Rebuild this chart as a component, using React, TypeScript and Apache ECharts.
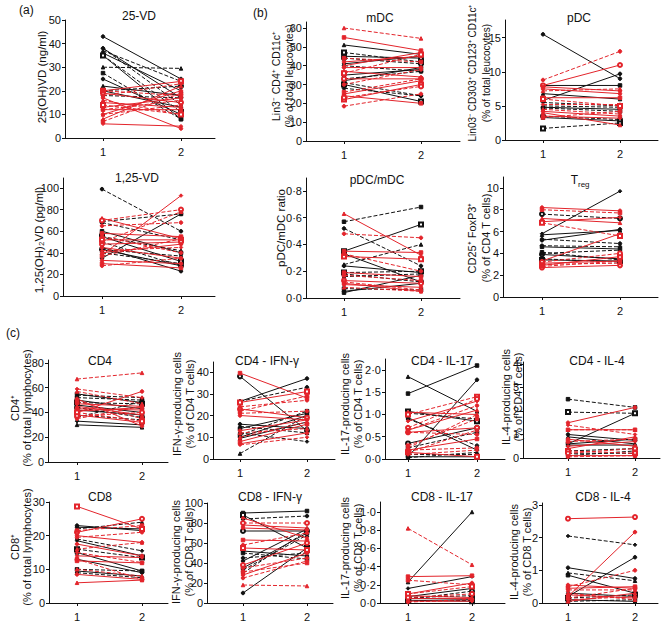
import React, { useEffect, useRef } from 'react';
import * as echarts from 'echarts';

type Pair = [number, number];

// ---------- (a) 25-VD ----------
const vd25BlackSolid: Pair[] = [[43, 25], [38, 17], [35, 8], [25, 10], [22, 18], [20, 13], [36, 20]];
const vd25BlackDashed: Pair[] = [[37, 24], [38, 14], [30, 29.5], [27.5, 8], [35, 11], [20, 22], [18, 17]];
const vd25RedSolid: Pair[] = [[20, 24], [19, 15], [17, 4], [13, 17], [12, 12], [10, 20], [8, 22], [6, 5], [15, 13]];
const vd25RedDashed: Pair[] = [[20, 18], [18, 23], [16, 10], [12, 16], [10, 14], [7, 19], [14, 10]];
const vd25Ticks = [0, 10, 20, 30, 40, 50];

// ---------- (a) 1,25-VD ----------
const vd125BlackSolid: Pair[] = [[60, 40], [55, 32], [43, 28], [35, 76], [45, 23]];
const vd125BlackDashed: Pair[] = [[99, 60], [69, 76], [68, 52], [55, 42], [43, 37], [40, 30], [50, 28]];
const vd125RedSolid: Pair[] = [[38, 93], [72, 53], [58, 55], [52, 52], [48, 50], [45, 35], [33, 30], [30, 26], [40, 48]];
const vd125RedDashed: Pair[] = [[70, 80], [65, 68], [55, 40], [37, 53], [28, 35], [50, 78], [42, 45]];
const vd125Ticks = [0, 20, 40, 60, 80, 100];

// ---------- (b) mDC ----------
const mdcBlackSolid: Pair[] = [[51, 46], [41, 45], [35, 38], [32, 39], [30, 21], [45, 44]];
const mdcBlackDashed: Pair[] = [[47, 42], [44, 41], [31, 24], [28, 24], [33, 37], [40, 37]];
const mdcRedSolid: Pair[] = [[55, 48], [42, 45], [40, 47], [37, 34], [25, 32], [24, 20], [22, 30], [33, 33], [39, 39]];
const mdcRedDashed: Pair[] = [[60, 54.5], [44, 42], [36, 46], [23, 29], [18.5, 25], [30, 38], [26, 33]];
const mdcTicks = [0, 10, 20, 30, 40, 50, 60];

// ---------- (b) pDC ----------
const pdcBlackSolid: Pair[] = [[15.5, 9], [8, 8], [5.8, 9.7], [6.8, 6], [4.8, 4.5], [3.3, 2.8]];
const pdcBlackDashed: Pair[] = [[5.5, 5], [5, 4.8], [4.7, 4.2], [1.7, 2.5], [3.5, 3]];
const pdcRedSolid: Pair[] = [[8, 11], [7.8, 7.2], [7.5, 6.8], [6.2, 6.2], [4.2, 3.5], [4, 2.2], [3.5, 3.2]];
const pdcRedDashed: Pair[] = [[8.8, 13], [7.2, 7.5], [5.2, 5.2], [4.5, 3.8], [3.3, 4.2], [6, 5]];
const pdcTicks = [0, 5, 10, 15];

// ---------- (b) pDC/mDC ----------
const ratioBlackSolid: Pair[] = [[0.35, 0.55], [0.33, 0.12], [0.24, 0.19], [0.05, 0.11], [0.04, 0.17]];
const ratioBlackDashed: Pair[] = [[0.57, 0.68], [0.52, 0.24], [0.25, 0.4], [0.18, 0.12], [0.16, 0.18], [0.07, 0.06], [0.19, 0.2]];
const ratioRedSolid: Pair[] = [[0.63, 0.32], [0.35, 0.34], [0.31, 0.29], [0.13, 0.11], [0.11, 0.05], [0.1, 0.08], [0.19, 0.16]];
const ratioRedDashed: Pair[] = [[0.48, 0.45], [0.33, 0.2], [0.17, 0.13], [0.12, 0.06], [0.08, 0.05]];
const ratioTicks = [0, 0.2, 0.4, 0.6, 0.8];

// ---------- (b) Treg ----------
const tregBlackSolid: Pair[] = [[5.8, 9.7], [5.7, 6.1], [4.6, 4.4], [3.4, 3.3], [3.9, 3.5], [5.2, 6.2]];
const tregBlackDashed: Pair[] = [[7.6, 7.2], [5.3, 4.9], [4.7, 4.6], [4.1, 3.4], [3.5, 3.2], [4.0, 4.3]];
const tregRedSolid: Pair[] = [[8.2, 7.9], [7.2, 6.8], [6.9, 7.3], [3.3, 5.8], [3.1, 3.3], [2.9, 3.7], [2.7, 2.9]];
const tregRedDashed: Pair[] = [[8, 7.7], [6.8, 5.6], [3.2, 4.0], [3.0, 3.1], [2.8, 3.3]];
const tregTicks = [0, 2, 4, 6, 8, 10];

// ---------- (c) CD4 ----------
const cd4BlackSolid: Pair[] = [[55, 48], [50, 43], [46, 40], [33, 30], [30, 28], [42, 38]];
const cd4BlackDashed: Pair[] = [[54, 52], [52, 50], [48, 47], [44, 36], [38, 34], [36, 49]];
const cd4RedSolid: Pair[] = [[51, 29], [47, 45], [43, 42], [40, 57], [38, 32], [41, 44], [45, 38]];
const cd4RedDashed: Pair[] = [[67, 72], [59, 52], [57, 47], [49, 35], [40, 33], [37, 40], [35, 45]];
const cd4Ticks = [0, 20, 40, 60, 80];

// ---------- (c) CD4 - IFN-γ ----------
const cd4IfnBlackSolid: Pair[] = [[38, 13], [26.5, 37], [16, 14], [14, 21], [10, 20], [9.5, 17]];
const cd4IfnBlackDashed: Pair[] = [[26.5, 33], [15, 12], [12, 8], [2.5, 20], [11, 22]];
const cd4IfnRedSolid: Pair[] = [[39.5, 28], [26, 31], [23, 19], [20, 18], [13, 18], [8, 16], [7, 12]];
const cd4IfnRedDashed: Pair[] = [[24, 27], [22, 29], [21, 22], [12, 14], [6.5, 10], [10, 17]];
const cd4IfnTicks = [0, 10, 20, 30, 40];

// ---------- (c) CD4 - IL-17 ----------
const cd4Il17BlackSolid: Pair[] = [[1.85, 1.07], [1.47, 2.1], [1.07, 0.85], [0.35, 0.7], [0.05, 1.78], [0.93, 0.2], [0.05, 0.05]];
const cd4Il17BlackDashed: Pair[] = [[1.03, 0.9], [0.9, 0.3], [0.25, 0.6], [0.1, 0.1], [0.03, 0.15]];
const cd4Il17RedSolid: Pair[] = [[1.05, 1.0], [0.85, 1.3], [0.65, 1.1], [0.2, 0.45], [0.15, 0.05], [0.6, 0.7]];
const cd4Il17RedDashed: Pair[] = [[1.0, 1.4], [0.7, 1.35], [0.65, 1.2], [0.6, 0.55], [0.3, 0.9], [0.2, 0.25], [0.15, 0.65], [0.1, 0.2], [0.25, 1.0]];
const cd4Il17Ticks = [0, 0.5, 1.0, 1.5, 2.0];

// ---------- (c) CD4 - IL-4 ----------
const cd4Il4BlackSolid: Pair[] = [[1.0, 0.75], [0.9, 0.6], [0.6, 1.9], [0.55, 0.55], [0.6, 0.8]];
const cd4Il4BlackDashed: Pair[] = [[2.5, 2.15], [1.95, 1.9], [0.3, 0.4], [0.1, 0.3], [0.2, 0.2]];
const cd4Il4RedSolid: Pair[] = [[1.5, 2.15], [1.2, 1.2], [0.8, 0.5], [0.4, 0.9], [0.5, 0.7], [0.1, 0.1]];
const cd4Il4RedDashed: Pair[] = [[1.4, 1.0], [1.2, 1.2], [0.7, 0.8], [0.3, 0.2], [0.2, 0.4], [0.05, 0.1]];
const cd4Il4Ticks = [0, 1, 2, 3, 4];

// ---------- (c) CD8 ----------
const cd8BlackSolid: Pair[] = [[23, 21.5], [22.5, 22], [15, 9.5], [13, 9], [9.5, 8], [18.5, 14]];
const cd8BlackDashed: Pair[] = [[22, 24], [19, 15.5], [9, 7.5], [10, 9.5], [16, 13.5]];
const cd8RedSolid: Pair[] = [[28.7, 22], [21, 25], [20, 18], [17.5, 14], [12.5, 11.9], [8.5, 7], [6, 6.8], [14, 13.5]];
const cd8RedDashed: Pair[] = [[21.5, 23], [19.5, 21], [16, 18], [15, 12], [10, 8], [13, 7]];
const cd8Ticks = [0, 10, 20, 30];

// ---------- (c) CD8 - IFN-γ ----------
const cd8IfnBlackSolid: Pair[] = [[90, 92], [88, 55], [72, 72], [52, 47], [42, 74], [35, 70], [10, 55]];
const cd8IfnBlackDashed: Pair[] = [[84, 87], [50, 44], [45, 50], [33, 68], [30, 72]];
const cd8IfnRedSolid: Pair[] = [[85, 65], [78, 75], [63, 62], [55, 53], [38, 60], [28, 50], [75, 73]];
const cd8IfnRedDashed: Pair[] = [[80, 80], [58, 70], [35, 45], [31, 40], [25, 42], [18, 17]];
const cd8IfnTicks = [0, 20, 40, 60, 80, 100];

// ---------- (c) CD8 - IL-17 ----------
const cd8Il17BlackSolid: Pair[] = [[0.23, 1.0], [0.16, 0.29], [0.07, 0.16], [0.05, 0.04], [0.03, 0.02]];
const cd8Il17BlackDashed: Pair[] = [[0.06, 0.08], [0.04, 0.13], [0.02, 0.03]];
const cd8Il17RedSolid: Pair[] = [[0.29, 0.3], [0.1, 0.22], [0.08, 0.06], [0.02, 0.02], [0.05, 0.05]];
const cd8Il17RedDashed: Pair[] = [[0.82, 0.42], [0.25, 0.2], [0.1, 0.18], [0.06, 0.1], [0.01, 0.04]];
const cd8Il17Ticks = [0, 0.2, 0.4, 0.6, 0.8, 1.0];

// ---------- (c) CD8 - IL-4 ----------
const cd8Il4BlackSolid: Pair[] = [[1.08, 0.75], [0.85, 0.3], [0.2, 1.4], [0.1, 0.05], [0.3, 0.2]];
const cd8Il4BlackDashed: Pair[] = [[2.05, 1.78], [0.92, 0.68], [0.05, 0.1], [0.15, 0.25]];
const cd8Il4RedSolid: Pair[] = [[2.58, 2.63], [0.2, 2.17], [0.55, 0.45], [0.45, 0.5], [0.25, 0.15], [0.05, 0.3]];
const cd8Il4RedDashed: Pair[] = [[0.5, 1.0], [0.4, 0.4], [0.1, 0.2], [0.3, 0.1], [0.15, 0.45]];
const cd8Il4Ticks = [0, 1, 2, 3];

const timepoints = [1, 2];

interface PanelData {
  title: string;
  yName: string[];
  groups: Pair[][]; // blackSolid, blackDashed, redSolid, redDashed
  ticks: number[];
  decimals: boolean;
}

const panels: PanelData[] = [
  { title: '25-VD', yName: ['25(OH)VD (ng/ml)'], groups: [vd25BlackSolid, vd25BlackDashed, vd25RedSolid, vd25RedDashed], ticks: vd25Ticks, decimals: false },
  { title: '1,25-VD', yName: ['1,25(OH)₂VD (pg/ml)'], groups: [vd125BlackSolid, vd125BlackDashed, vd125RedSolid, vd125RedDashed], ticks: vd125Ticks, decimals: false },
  { title: 'mDC', yName: ['Lin3⁻ CD4⁺ CD11c⁺', '(% of total leucocytes)'], groups: [mdcBlackSolid, mdcBlackDashed, mdcRedSolid, mdcRedDashed], ticks: mdcTicks, decimals: false },
  { title: 'pDC', yName: ['Lin03⁻ CD303⁺ CD123⁺ CD11c⁺', '(% of total leucocytes)'], groups: [pdcBlackSolid, pdcBlackDashed, pdcRedSolid, pdcRedDashed], ticks: pdcTicks, decimals: false },
  { title: 'pDC/mDC', yName: ['pDC/mDC ratio'], groups: [ratioBlackSolid, ratioBlackDashed, ratioRedSolid, ratioRedDashed], ticks: ratioTicks, decimals: true },
  { title: '', yName: ['CD25⁺ FoxP3⁺', '(% of CD4 T cells)'], groups: [tregBlackSolid, tregBlackDashed, tregRedSolid, tregRedDashed], ticks: tregTicks, decimals: false },
  { title: 'CD4', yName: ['CD4⁺', '(% of total lymphocytes)'], groups: [cd4BlackSolid, cd4BlackDashed, cd4RedSolid, cd4RedDashed], ticks: cd4Ticks, decimals: false },
  { title: 'CD4 - IFN-γ', yName: ['IFN-γ-producing cells', '(% of CD4 T cells)'], groups: [cd4IfnBlackSolid, cd4IfnBlackDashed, cd4IfnRedSolid, cd4IfnRedDashed], ticks: cd4IfnTicks, decimals: false },
  { title: 'CD4 - IL-17', yName: ['IL-17-producing cells', '(% of CD4 T cells)'], groups: [cd4Il17BlackSolid, cd4Il17BlackDashed, cd4Il17RedSolid, cd4Il17RedDashed], ticks: cd4Il17Ticks, decimals: true },
  { title: 'CD4 - IL-4', yName: ['IL-4-producing cells', '(% of CD4 T cells)'], groups: [cd4Il4BlackSolid, cd4Il4BlackDashed, cd4Il4RedSolid, cd4Il4RedDashed], ticks: cd4Il4Ticks, decimals: false },
  { title: 'CD8', yName: ['CD8⁺', '(% of total lymphocytes)'], groups: [cd8BlackSolid, cd8BlackDashed, cd8RedSolid, cd8RedDashed], ticks: cd8Ticks, decimals: false },
  { title: 'CD8 - IFN-γ', yName: ['IFN-γ-producing cells', '(% of CD8 T cells)'], groups: [cd8IfnBlackSolid, cd8IfnBlackDashed, cd8IfnRedSolid, cd8IfnRedDashed], ticks: cd8IfnTicks, decimals: false },
  { title: 'CD8 - IL-17', yName: ['IL-17-producing cells', '(% of CD8 T cells)'], groups: [cd8Il17BlackSolid, cd8Il17BlackDashed, cd8Il17RedSolid, cd8Il17RedDashed], ticks: cd8Il17Ticks, decimals: true },
  { title: 'CD8 - IL-4', yName: ['IL-4-producing cells', '(% of CD8 T cells)'], groups: [cd8Il4BlackSolid, cd8Il4BlackDashed, cd8Il4RedSolid, cd8Il4RedDashed], ticks: cd8Il4Ticks, decimals: false },
];

// ---------- layout (pixels) ----------
interface Layout { left: number; right: number; c1: number; c2: number; top: number; bottom: number; yMax: number; tx: number; ty: number; nx: number; ny: number; nf: number; lh: number }
const layouts: Layout[] = [
  { left: 65, right: 215, c1: 103, c2: 181, top: 20, bottom: 138, yMax: 50, tx: 139, ty: 16, nx: 42, ny: 77, nf: 11.5, lh: 13 },
  { left: 63, right: 215, c1: 102, c2: 181, top: 178, bottom: 296, yMax: 109.3, tx: 137, ty: 178, nx: 39, ny: 240, nf: 11.5, lh: 13 },
  { left: 306, right: 460, c1: 344, c2: 421, top: 22, bottom: 141, yMax: 63.2, tx: 380, ty: 18, nx: 282, ny: 76, nf: 10.5, lh: 13 },
  { left: 505, right: 658, c1: 543, c2: 620, top: 20, bottom: 140, yMax: 17.6, tx: 579, ty: 18, nx: 479, ny: 73, nf: 10, lh: 14 },
  { left: 306, right: 460, c1: 344, c2: 421, top: 178, bottom: 298, yMax: 0.897, tx: 377, ty: 180, nx: 281, ny: 228, nf: 11.5, lh: 13 },
  { left: 503, right: 658, c1: 542, c2: 620, top: 177, bottom: 297, yMax: 11, tx: 578, ty: 180, nx: 479, ny: 238, nf: 11, lh: 14 },
  { left: 48, right: 168, c1: 77, c2: 142, top: 360, bottom: 462, yMax: 82.4, tx: 100, ty: 361, nx: 21, ny: 408, nf: 11, lh: 12.5 },
  { left: 213, right: 335, c1: 240, c2: 307, top: 362, bottom: 459, yMax: 44.6, tx: 267, ty: 361, nx: 183, ny: 404, nf: 11, lh: 13 },
  { left: 385, right: 505, c1: 408, c2: 477, top: 359, bottom: 459, yMax: 2.247, tx: 442, ty: 361, nx: 351, ny: 404, nf: 11, lh: 13 },
  { left: 523, right: 660, c1: 568, c2: 635, top: 362, bottom: 458, yMax: 4.08, tx: 597, ty: 361, nx: 512, ny: 397, nf: 11, lh: 12 },
  { left: 49, right: 168, c1: 77, c2: 142, top: 502, bottom: 603, yMax: 30, tx: 100, ty: 497, nx: 21, ny: 547, nf: 11, lh: 12.5 },
  { left: 207, right: 333, c1: 243, c2: 307, top: 503, bottom: 603, yMax: 100, tx: 270, ty: 497, nx: 182, ny: 552, nf: 11, lh: 13 },
  { left: 380, right: 505, c1: 408, c2: 472, top: 502, bottom: 603, yMax: 1.11, tx: 442, ty: 497, nx: 351, ny: 548, nf: 11, lh: 13 },
  { left: 542, right: 658, c1: 568, c2: 635, top: 503, bottom: 603, yMax: 3.06, tx: 603, ty: 497, nx: 520, ny: 552, nf: 11, lh: 13 },
];

const RED = '#e3242b';
const BLACK = '#111111';
const FONT = '"Liberation Sans", Arial, Helvetica, sans-serif';
const SYMBOLS = ['circle', 'rect', 'triangle', 'circle', 'emptyRect', 'diamond', 'rect', 'emptyCircle', 'triangle', 'circle'];

function buildOption() {
  const grid: any[] = [];
  const xAxis: any[] = [];
  const yAxis: any[] = [];
  const series: any[] = [];
  const graphic: any[] = [];

  panels.forEach((p, i) => {
    const L = layouts[i];
    const ppu = L.c2 - L.c1;
    const xMin = 1 - (L.c1 - L.left) / ppu;
    const xMax = 2 + (L.right - L.c2) / ppu;
    grid.push({ left: L.left, top: L.top, width: L.right - L.left, height: L.bottom - L.top, containLabel: false });
    xAxis.push({
      type: 'value', gridIndex: i, min: xMin, max: xMax,
      axisLine: { show: true, lineStyle: { color: BLACK, width: 1 } },
      axisTick: { show: true, length: 3, customValues: timepoints, lineStyle: { color: BLACK } },
      axisLabel: { customValues: timepoints, color: BLACK, fontSize: 11, fontFamily: FONT, margin: 8 },
      splitLine: { show: false },
    });
    yAxis.push({
      type: 'value', gridIndex: i, min: 0, max: L.yMax,
      axisLine: { show: true, lineStyle: { color: BLACK, width: 1 } },
      axisTick: { show: true, length: 3, customValues: p.ticks, lineStyle: { color: BLACK } },
      axisLabel: {
        customValues: p.ticks, color: BLACK, fontSize: 11, fontFamily: FONT, margin: 4,
        formatter: (v: number) => (p.decimals ? v.toFixed(1).replace('.', '·') : String(v)),
      },
      splitLine: { show: false },
    });
    p.groups.forEach((pairs, g) => {
      const color = g < 2 ? BLACK : RED;
      const dashed = g % 2 === 1;
      pairs.forEach((pair, j) => {
        const sym = SYMBOLS[(j * 3 + g * 2 + i) % SYMBOLS.length];
        series.push({
          type: 'line', xAxisIndex: i, yAxisIndex: i, silent: true,
          data: [[timepoints[0], pair[0]], [timepoints[1], pair[1]]],
          symbol: sym, symbolSize: sym.startsWith('empty') ? 4 : 3.5,
          lineStyle: { color, width: 1, type: dashed ? [4, 2] : 'solid' },
          itemStyle: { color, borderColor: color, borderWidth: 1 },
          z: g < 2 ? 2 : 3,
        });
      });
    });
    if (p.title) {
      graphic.push({ type: 'text', x: L.tx, y: L.ty, style: { text: p.title, fill: BLACK, font: `12px ${FONT}`, align: 'center', verticalAlign: 'middle' } });
    }
    const n = p.yName.length;
    p.yName.forEach((line, k) => {
      graphic.push({
        type: 'text', x: L.nx + (k - (n - 1) / 2) * L.lh, y: L.ny, rotation: Math.PI / 2,
        style: { text: line, fill: BLACK, font: `${L.nf}px ${FONT}`, align: 'center', verticalAlign: 'middle' },
      });
    });
  });

  // Treg title with subscript
  graphic.push({ type: 'text', x: 578, y: 180, style: { text: 'T', fill: BLACK, font: `12px ${FONT}`, align: 'right', verticalAlign: 'middle' } });
  graphic.push({ type: 'text', x: 578, y: 184, style: { text: 'reg', fill: BLACK, font: `8px ${FONT}`, align: 'left', verticalAlign: 'middle' } });

  // panel labels
  graphic.push({ type: 'text', x: 19, y: 10, style: { text: '(a)', fill: BLACK, font: `12px ${FONT}`, verticalAlign: 'middle' } });
  graphic.push({ type: 'text', x: 253, y: 13, style: { text: '(b)', fill: BLACK, font: `12px ${FONT}`, verticalAlign: 'middle' } });
  graphic.push({ type: 'text', x: 6, y: 333, style: { text: '(c)', fill: BLACK, font: `12px ${FONT}`, verticalAlign: 'middle' } });

  return { animation: false, backgroundColor: '#ffffff', grid, xAxis, yAxis, series, graphic };
}

export default function App() {
  const ref = useRef<HTMLDivElement>(null);
  useEffect(() => {
    document.body.style.margin = '0';
    if (!ref.current) return;
    const chart = echarts.init(ref.current, undefined, { renderer: 'svg' });
    chart.setOption(buildOption() as any);
    return () => chart.dispose();
  }, []);
  return <div ref={ref} style={{ width: 667, height: 622 }} />;
}
